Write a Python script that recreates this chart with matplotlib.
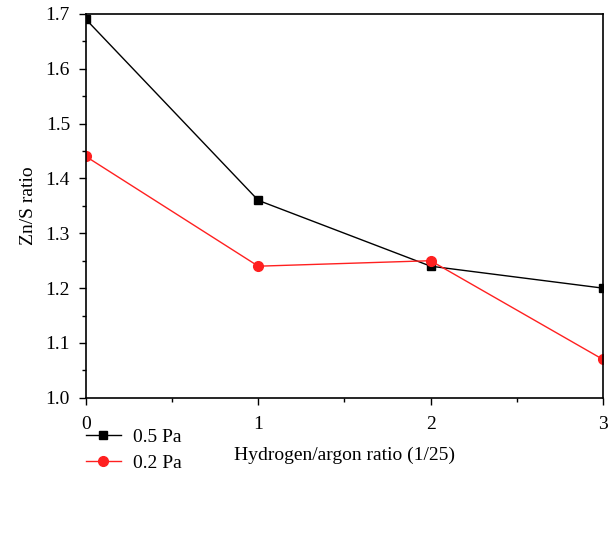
import numpy as np
import matplotlib
matplotlib.use('Agg')
from matplotlib import pyplot as plt
from matplotlib.ticker import MultipleLocator, FormatStrFormatter

ratio = [0, 1, 2, 3]
zns_05pa = [1.69, 1.36, 1.24, 1.20]
zns_02pa = [1.44, 1.24, 1.25, 1.07]
series_labels = ['0.5 Pa', '0.2 Pa']

plt.rcParams['font.family'] = ['Liberation Serif', 'DejaVu Serif']
plt.rcParams['font.size'] = 14

fig = plt.figure(figsize=(6.14, 5.34), dpi=100)
ax = fig.add_axes([0.140, 0.255, 0.842, 0.719])

ax.plot(ratio, zns_05pa, color='black', marker='s', markersize=6, lw=1,
        label=series_labels[0])
ax.plot(ratio, zns_02pa, color='#ff2020', marker='o', markersize=7, lw=1,
        label=series_labels[1])

ax.set_xlim(0, 3)
ax.set_ylim(1.0, 1.7)
ax.xaxis.set_major_locator(MultipleLocator(1))
ax.xaxis.set_minor_locator(MultipleLocator(0.5))
ax.yaxis.set_major_locator(MultipleLocator(0.1))
ax.yaxis.set_minor_locator(MultipleLocator(0.05))
ax.yaxis.set_major_formatter(FormatStrFormatter('%.1f'))
ax.tick_params(which='major', direction='out', length=5, width=1,
               labelsize=14)
ax.tick_params(axis='x', which='major', pad=8)
ax.tick_params(axis='y', which='major', pad=6.5)
ax.tick_params(which='minor', direction='out', length=3, width=1)
for s in ax.spines.values():
    s.set_linewidth(1.2)

ax.set_xlabel('Hydrogen/argon ratio (1/25)', fontsize=14, labelpad=10)
ax.set_ylabel('Zn/S ratio', fontsize=14, labelpad=6)

fig.legend(loc='upper left', bbox_to_anchor=(0.140, 0.198), frameon=False,
           borderpad=0, borderaxespad=0, handlelength=1.8, handletextpad=0.6,
           labelspacing=0.45, fontsize=14)

fig.savefig('out.png', dpi=100)
